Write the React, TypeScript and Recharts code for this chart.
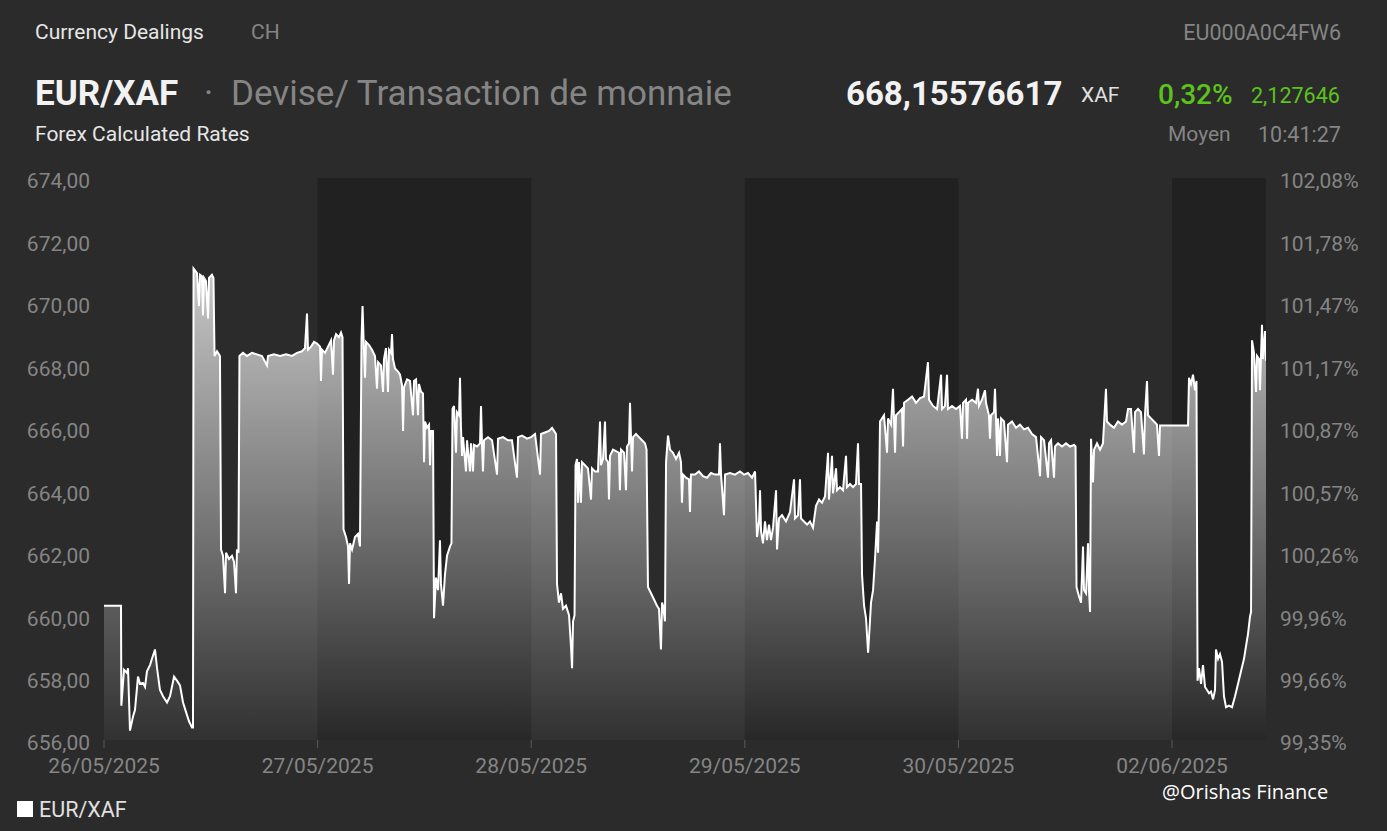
import React from 'react';
import {
  ComposedChart,
  Area,
  XAxis,
  YAxis,
  ReferenceArea,
} from 'recharts';

// [hour of session, EUR/XAF rate] per trading day
const day26: [number, number][] = [
  [0, 660.3], [1.91, 660.3], [1.95, 657.1], [2.25, 658.25], [2.58, 658.15], [2.7, 658.3],
  [2.92, 656.3], [3.26, 656.75], [3.48, 656.96], [3.82, 658.03], [4.04, 657.8], [4.38, 657.83],
  [4.61, 657.7], [4.83, 658.2], [5.17, 658.4], [5.39, 658.6], [5.73, 658.9], [5.96, 658.3],
  [6.29, 657.6], [6.63, 657.4], [7.08, 657.2], [7.42, 657.4], [7.87, 658.03], [8.2, 657.9],
  [8.54, 657.75], [8.88, 657.2], [9.21, 656.9], [9.55, 656.6], [9.89, 656.4], [10.0, 656.4],
  [10.06, 671.1], [10.45, 670.95], [10.67, 669.9], [10.79, 670.9], [11.01, 670.85], [11.12, 669.6],
  [11.24, 670.8], [11.46, 670.7], [11.69, 669.5], [11.8, 670.8], [12.13, 670.9], [12.3, 670.8],
  [12.42, 668.3], [12.7, 668.45], [13.03, 668.3], [13.15, 662.1], [13.37, 661.9], [13.6, 660.7],
  [13.71, 662.0], [14.04, 661.8], [14.38, 661.9], [14.61, 661.7], [14.83, 660.7], [14.94, 662.1],
  [15.11, 662.0], [15.22, 668.3], [15.62, 668.4], [16.07, 668.3], [16.63, 668.4], [17.19, 668.35],
  [17.75, 668.3], [18.31, 668.0], [18.43, 668.3], [19.1, 668.35], [19.78, 668.3], [20.45, 668.35],
  [21.12, 668.3], [21.69, 668.4], [22.25, 668.45], [22.58, 668.55], [22.81, 669.66], [22.92, 668.5],
  [23.26, 668.6], [23.6, 668.75], [23.93, 668.7],
];

const day27: [number, number][] = [
  [0.27, 668.6], [0.38, 667.5], [0.49, 668.5], [0.83, 668.4], [1.17, 668.6], [1.51, 668.8],
  [1.73, 667.7], [1.84, 668.8], [2.07, 669.0], [2.4, 668.9], [2.63, 669.05], [2.8, 668.9],
  [2.91, 662.75], [3.19, 662.5], [3.42, 662.2], [3.53, 661.0], [3.64, 662.3], [3.87, 662.1],
  [4.2, 662.5], [4.54, 662.6], [4.76, 662.2], [4.93, 668.8], [5.05, 669.9], [5.16, 668.9],
  [5.33, 667.6], [5.44, 668.75], [5.78, 668.65], [6.11, 668.5], [6.45, 668.3], [6.67, 667.25],
  [6.79, 668.1], [7.12, 668.0], [7.35, 667.15], [7.46, 668.2], [7.68, 668.55], [7.91, 667.15],
  [8.02, 668.5], [8.25, 668.4], [8.36, 669.0], [8.47, 668.2], [8.7, 667.9], [9.04, 667.8],
  [9.26, 667.7], [9.49, 667.35], [9.6, 665.9], [9.71, 667.3], [10.05, 667.55], [10.38, 667.5],
  [10.72, 666.4], [10.83, 667.5], [11.06, 667.55], [11.28, 666.4], [11.39, 667.4], [11.62, 667.15],
  [11.84, 667.1], [11.96, 664.9], [12.07, 666.2], [12.29, 666.0], [12.52, 666.1], [12.63, 664.8],
  [12.74, 665.9], [12.97, 665.9], [13.08, 659.9], [13.3, 661.2], [13.53, 660.8], [13.75, 662.4],
  [13.86, 661.0], [14.09, 660.3], [14.31, 661.3], [14.54, 661.9], [14.88, 662.2], [15.04, 662.3],
  [15.16, 666.6], [15.33, 666.7], [15.55, 665.2], [15.66, 666.5], [15.89, 666.4], [16.0, 667.6],
  [16.11, 666.0], [16.23, 665.1], [16.34, 665.7], [16.67, 664.6], [16.79, 665.6], [17.12, 664.6],
  [17.24, 665.5], [17.46, 664.6], [17.57, 665.45], [17.91, 665.4], [18.25, 665.5], [18.36, 666.7],
  [18.47, 665.5], [18.58, 664.6], [18.7, 665.6], [19.15, 665.7], [19.6, 665.6], [20.16, 664.5],
  [20.27, 665.65], [20.83, 665.7], [21.39, 665.6], [21.84, 665.6], [22.4, 664.4], [22.52, 665.7],
  [22.97, 665.75], [23.53, 665.65], [23.98, 665.7],
];

const day28: [number, number][] = [
  [0.43, 665.8], [0.99, 664.5], [1.1, 665.8], [1.55, 665.85], [2.0, 665.9], [2.34, 666.0],
  [2.56, 665.9], [2.79, 665.8], [2.9, 661.0], [3.12, 660.4], [3.35, 660.7], [3.57, 660.2],
  [3.91, 660.3], [4.25, 660.0], [4.47, 659.0], [4.59, 658.3], [4.7, 659.8], [4.87, 660.0],
  [4.98, 664.8], [5.15, 665.0], [5.26, 663.6], [5.37, 664.9], [5.59, 663.6], [5.71, 664.9],
  [6.04, 664.8], [6.38, 664.7], [6.72, 663.7], [6.83, 664.7], [7.17, 664.6], [7.5, 664.6],
  [7.73, 666.2], [7.84, 664.8], [8.07, 665.0], [8.29, 666.2], [8.4, 665.0], [8.63, 664.9],
  [8.74, 663.7], [8.85, 665.1], [9.19, 665.3], [9.52, 665.25], [9.86, 665.2], [9.97, 664.0],
  [10.09, 665.3], [10.43, 665.2], [10.65, 664.0], [10.76, 665.4], [10.99, 665.5], [11.1, 666.8],
  [11.21, 665.7], [11.33, 664.6], [11.44, 665.7], [11.77, 665.8], [12.11, 665.7], [12.45, 665.6],
  [12.79, 665.5], [12.96, 665.3], [13.12, 660.9], [13.46, 660.7], [13.8, 660.5], [14.13, 660.3],
  [14.36, 660.2], [14.58, 658.9], [14.7, 660.4], [14.81, 660.3], [15.03, 659.8], [15.15, 664.9],
  [15.37, 665.75], [15.6, 665.3], [15.93, 665.2], [16.27, 665.0], [16.61, 665.2], [16.83, 664.9],
  [16.94, 663.6], [17.06, 664.5], [17.39, 664.4], [17.73, 664.35], [17.84, 663.3], [17.95, 664.5],
  [18.4, 664.5], [18.85, 664.6], [19.3, 664.45], [19.75, 664.4], [20.2, 664.55], [20.65, 664.5],
  [21.1, 664.5], [21.21, 665.5], [21.33, 664.5], [21.66, 663.2], [21.78, 664.5], [22.34, 664.55],
  [22.9, 664.5], [23.46, 664.6], [23.91, 664.5],
];

const day29: [number, number][] = [
  [0.36, 664.55], [0.81, 664.4], [1.15, 664.6], [1.37, 662.5], [1.6, 663.0], [1.71, 664.0],
  [1.82, 662.7], [2.04, 662.3], [2.27, 663.0], [2.49, 662.4], [2.72, 662.9], [2.94, 662.4],
  [3.17, 662.8], [3.51, 664.0], [3.62, 662.1], [3.84, 663.1], [4.18, 663.2], [4.63, 663.0],
  [5.08, 663.3], [5.53, 664.35], [5.64, 663.1], [5.98, 663.2], [6.2, 664.35], [6.31, 663.1],
  [6.65, 663.0], [6.99, 662.9], [7.32, 663.0], [7.66, 662.8], [8.0, 663.5], [8.34, 663.7],
  [8.67, 663.6], [9.01, 663.8], [9.35, 665.2], [9.46, 663.7], [9.8, 665.1], [9.91, 663.9],
  [10.25, 664.7], [10.36, 664.0], [10.69, 664.1], [11.03, 664.0], [11.37, 665.1], [11.48, 664.1],
  [11.82, 664.2], [12.16, 664.1], [12.49, 664.2], [12.72, 665.5], [12.83, 664.2], [13.06, 664.2],
  [13.17, 661.3], [13.4, 660.3], [13.62, 659.9], [13.85, 658.8], [13.96, 659.3], [14.18, 660.4],
  [14.41, 660.8], [14.63, 661.8], [14.86, 663.0], [14.97, 662.0], [15.08, 663.6], [15.19, 666.2],
  [15.42, 666.3], [15.64, 666.4], [15.98, 665.2], [16.09, 666.3], [16.43, 666.1], [16.65, 667.25],
  [16.76, 666.3], [16.88, 665.2], [16.99, 666.4], [17.33, 666.5], [17.66, 666.6], [17.78, 665.4],
  [17.89, 666.8], [18.34, 666.9], [18.79, 667.0], [19.24, 666.8], [19.69, 666.95], [20.13, 667.0],
  [20.58, 668.1], [20.7, 666.9], [21.15, 666.7], [21.6, 666.6], [22.05, 667.7], [22.16, 666.6],
  [22.49, 666.7], [22.72, 667.7], [22.83, 666.6], [23.28, 666.7], [23.73, 666.6],
];

const day30: [number, number][] = [
  [0.18, 666.7], [0.4, 665.65], [0.52, 666.8], [0.85, 666.9], [0.97, 665.65], [1.08, 666.8],
  [1.53, 666.9], [1.98, 666.8], [2.2, 667.25], [2.31, 666.7], [2.65, 666.9], [2.99, 667.2],
  [3.1, 666.8], [3.43, 666.4], [3.55, 665.65], [3.66, 666.4], [4.0, 666.5], [4.11, 667.25],
  [4.22, 666.3], [4.34, 665.1], [4.45, 666.3], [4.67, 665.1], [4.79, 666.3], [5.12, 666.2],
  [5.46, 664.9], [5.57, 666.1], [6.02, 666.2], [6.47, 666.0], [6.92, 666.1], [7.37, 665.95],
  [7.82, 666.0], [8.27, 665.8], [8.72, 665.7], [9.17, 664.45], [9.28, 665.7], [9.62, 665.6],
  [10.07, 664.4], [10.18, 665.5], [10.41, 665.6], [10.74, 664.4], [10.85, 665.4], [11.19, 665.5],
  [11.64, 665.4], [12.09, 665.5], [12.54, 665.4], [12.99, 665.45], [13.16, 665.4], [13.27, 660.9],
  [13.55, 660.6], [13.78, 660.4], [14.0, 662.2], [14.11, 660.8], [14.34, 660.7], [14.56, 662.3],
  [14.67, 660.8], [14.79, 660.1], [14.9, 665.65], [15.12, 664.25], [15.24, 665.3], [15.57, 665.5],
  [15.91, 665.3], [16.24, 665.5], [16.58, 667.25], [16.69, 666.2], [17.03, 666.1], [17.48, 666.0],
  [17.93, 666.2], [18.38, 666.1], [18.83, 666.2], [19.06, 666.6], [19.39, 666.6], [19.73, 665.2],
  [19.84, 666.5], [20.18, 666.6], [20.51, 666.5], [20.85, 665.15], [20.96, 666.4], [21.19, 667.5],
  [21.3, 666.4], [21.64, 666.3], [21.98, 666.2], [22.31, 666.1], [22.54, 665.1], [22.65, 666.07],
  [24, 666.07],
];

const day02: [number, number][] = [
  [0, 666.07], [1.8, 666.07], [1.91, 667.6], [2.13, 667.4], [2.36, 667.7], [2.58, 667.2],
  [2.75, 667.5], [2.87, 657.9], [3.03, 658.3], [3.26, 657.8], [3.48, 658.4], [3.71, 657.7],
  [3.93, 657.6], [4.16, 657.5], [4.38, 657.55], [4.61, 657.3], [4.83, 657.6], [4.94, 658.9],
  [5.17, 658.6], [5.39, 658.75], [5.62, 658.5], [5.84, 657.4], [6.07, 657.05], [6.4, 657.1],
  [6.74, 657.05], [7.08, 657.4], [7.42, 657.8], [7.75, 658.2], [8.09, 658.6], [8.31, 659.0],
  [8.54, 659.4], [8.76, 659.95], [8.88, 660.1], [8.99, 668.8], [9.21, 668.4], [9.44, 667.15],
  [9.55, 668.3], [9.78, 668.2], [9.89, 667.2], [10.0, 668.3], [10.11, 669.3], [10.22, 668.2],
  [10.45, 669.1], [10.56, 668.15],
];

const days = [day26, day27, day28, day29, day30, day02];
const dayLabels = ['26/05/2025', '27/05/2025', '28/05/2025', '29/05/2025', '30/05/2025', '02/06/2025'];
const dayTicks = [0, 24, 48, 72, 96, 120];
const leftTicks = [656, 658, 660, 662, 664, 666, 668, 670, 672, 674];
const rightLabels = ['99,35%', '99,66%', '99,96%', '100,26%', '100,57%', '100,87%', '101,17%', '101,47%', '101,78%', '102,08%'];

const data: { t: number; v: number }[] = [];
days.forEach((d, i) => d.forEach(([h, v]) => data.push({ t: i * 24 + h, v })));

const BG = '#2b2b2b';
const DARK = '#212121';
const GREY = '#858585';
const FONT = 'Roboto, "Noto Sans", sans-serif';

const txt = (left: number, top: number, size: number, color: string, extra: React.CSSProperties = {}) => ({
  position: 'absolute' as const,
  left,
  top,
  fontSize: size,
  lineHeight: `${size}px`,
  color,
  whiteSpace: 'nowrap' as const,
  ...extra,
});

export default function App() {
  return (
    <div
      style={{
        position: 'absolute',
        left: 0,
        top: 0,
        width: 1387,
        height: 831,
        background: BG,
        fontFamily: FONT,
        overflow: 'hidden',
      }}
    >
      <div style={txt(35, 22, 21, '#e6e6e6')}>Currency Dealings</div>
      <div style={txt(251, 22, 21, GREY)}>CH</div>
      <div style={txt(1141, 22, 21.5, GREY, { width: 200, textAlign: 'right' })}>EU000A0C4FW6</div>

      <div style={txt(35, 76, 35, '#f2f2f2', { fontWeight: 700 })}>EUR/XAF</div>
      <div style={txt(204, 76, 35, GREY)}>·</div>
      <div style={txt(231, 76, 35, GREY)}>Devise/ Transaction de monnaie</div>
      <div style={txt(846, 77, 33, '#f2f2f2', { fontWeight: 700 })}>668,15576617</div>
      <div style={txt(1081, 85, 21, '#e0e0e0')}>XAF</div>
      <div style={txt(1158, 81, 28, '#5cc31c', { fontWeight: 500 })}>0,32%</div>
      <div style={txt(1251, 85, 21.5, '#5cc31c')}>2,127646</div>

      <div style={txt(35, 124, 21, '#e6e6e6')}>Forex Calculated Rates</div>
      <div style={txt(1168, 124, 21, GREY)}>Moyen</div>
      <div style={txt(1258, 124, 21.5, GREY)}>10:41:27</div>

      <div style={{ position: 'absolute', left: 0, top: 0 }}>
        <ComposedChart
          width={1387}
          height={831}
          data={data}
          margin={{ top: 178, right: 21, left: 8, bottom: 51 }}
        >
          <defs>
            <linearGradient id="fillGrad" x1="0" y1="0" x2="0" y2="1">
              <stop offset="0%" stopColor="#ffffff" stopOpacity={0.74} />
              <stop offset="100%" stopColor="#ffffff" stopOpacity={0.03} />
            </linearGradient>
          </defs>
          <XAxis
            dataKey="t"
            type="number"
            domain={[0, 130.56]}
            ticks={dayTicks}
            tickFormatter={(v) => dayLabels[dayTicks.indexOf(v)]}
            axisLine={false}
            tickLine={{ stroke: '#5a5a5a' }}
            tickSize={8}
            tickMargin={10}
            height={40}
            tick={{ fill: GREY, fontSize: 21, fontFamily: FONT }}
            allowDataOverflow
          />
          <YAxis
            yAxisId="left"
            domain={[656, 674]}
            ticks={leftTicks}
            tickFormatter={(v) => v.toFixed(2).replace('.', ',')}
            axisLine={false}
            tickLine={false}
            tickMargin={8}
            width={96}
            tick={{ fill: GREY, fontSize: 21, fontFamily: FONT, dy: 3 }}
            allowDataOverflow
          />
          <YAxis
            yAxisId="right"
            orientation="right"
            domain={[656, 674]}
            ticks={leftTicks}
            tickFormatter={(v) => rightLabels[leftTicks.indexOf(v)]}
            axisLine={false}
            tickLine={false}
            tickMargin={8}
            width={100}
            tick={{ fill: GREY, fontSize: 21, fontFamily: FONT, textAnchor: 'start', dy: 3 }}
            allowDataOverflow
          />
          <ReferenceArea yAxisId="left" x1={24} x2={48} y1={656} y2={674} fill={DARK} fillOpacity={1} stroke="none" />
          <ReferenceArea yAxisId="left" x1={72} x2={96} y1={656} y2={674} fill={DARK} fillOpacity={1} stroke="none" />
          <ReferenceArea yAxisId="left" x1={120} x2={130.56} y1={656} y2={674} fill={DARK} fillOpacity={1} stroke="none" />
          <Area
            yAxisId="left"
            type="linear"
            dataKey="v"
            stroke="#ffffff"
            strokeWidth={2}
            fill="url(#fillGrad)"
            fillOpacity={1}
            dot={false}
            activeDot={false}
            isAnimationActive={false}
          />
          <Area
            yAxisId="right"
            type="linear"
            dataKey="v"
            stroke="none"
            fill="none"
            dot={false}
            activeDot={false}
            isAnimationActive={false}
          />
        </ComposedChart>
      </div>

      <div style={{ position: 'absolute', left: 17, top: 801, width: 16, height: 16, background: '#ffffff' }} />
      <div style={txt(39, 799, 21.5, '#e0e0e0')}>EUR/XAF</div>
      <div style={txt(1162, 782, 20, '#ffffff', { fontFamily: '"Open Sans", "Noto Sans", sans-serif' })}>@Orishas Finance</div>
    </div>
  );
}
